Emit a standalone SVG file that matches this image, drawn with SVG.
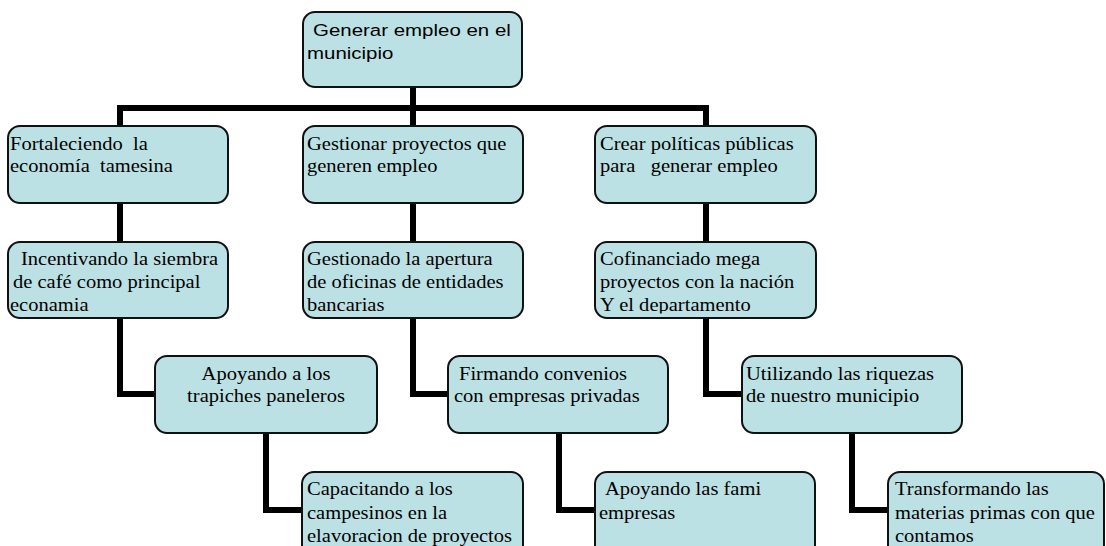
<svg xmlns="http://www.w3.org/2000/svg" width="1106" height="546" viewBox="0 0 1106 546">
<style>
.box{fill:#bce1e4;stroke:#111;stroke-width:2}
.s{font-family:"Liberation Serif","Times New Roman",serif;font-size:18px;fill:#000}
.a{font-family:"Liberation Sans",Arial,sans-serif;font-size:16.5px;fill:#000}
.c{fill:none;stroke:#000;stroke-width:6;stroke-linejoin:miter;stroke-linecap:butt}
</style>
<defs>
<clipPath id="clipL2"><rect x="0" y="240" width="1106" height="73.5"/></clipPath>
</defs>
<rect width="1106" height="546" fill="#fff"/>
<g id="connectors">
<path class="c" d="M413,87 V108"/>
<path class="c" d="M120,130 V108 H706 V130"/>
<path class="c" d="M413,108 V130"/>
<path class="c" d="M120,200 V245"/>
<path class="c" d="M413,200 V245"/>
<path class="c" d="M706,200 V245"/>
<path class="c" d="M120,315 V394 H158"/>
<path class="c" d="M413,315 V394 H451"/>
<path class="c" d="M706,315 V394 H745"/>
<path class="c" d="M266,430 V510 H305"/>
<path class="c" d="M559,430 V510 H598"/>
<path class="c" d="M852,430 V510 H891"/>
</g>
<g id="n0">
<rect class="box" x="303" y="12" width="219" height="75" rx="12"/>
<text class="a" transform="translate(313,36) scale(1.24,1)">Generar empleo en el</text>
<text class="a" transform="translate(307,59) scale(1.24,1)">municipio</text>
</g>
<g id="n1">
<rect class="box" x="8" y="126" width="220" height="77" rx="12"/>
<text class="s" xml:space="preserve" transform="translate(10,150) scale(1.14,1)">Fortaleciendo  la</text>
<text class="s" xml:space="preserve" transform="translate(10,172) scale(1.14,1)">economía  tamesina</text>
</g>
<g id="n2">
<rect class="box" x="303" y="126" width="220" height="77" rx="12"/>
<text class="s" transform="translate(307,150) scale(1.14,1)">Gestionar proyectos que</text>
<text class="s" transform="translate(307,172) scale(1.14,1)">generen empleo</text>
</g>
<g id="n3">
<rect class="box" x="595" y="126" width="221" height="77" rx="12"/>
<text class="s" transform="translate(600,150) scale(1.14,1)">Crear políticas públicas</text>
<text class="s" xml:space="preserve" transform="translate(600,172) scale(1.14,1)">para   generar empleo</text>
</g>
<g id="n4">
<rect class="box" x="8" y="242" width="220" height="76" rx="12"/>
<g clip-path="url(#clipL2)">
<text class="s" transform="translate(21,265) scale(1.14,1)">Incentivando la siembra</text>
<text class="s" transform="translate(13,288) scale(1.14,1)">de café como principal</text>
<text class="s" transform="translate(10,311) scale(1.14,1)">econamia</text>
</g>
</g>
<g id="n5">
<rect class="box" x="303" y="242" width="220" height="76" rx="12"/>
<g clip-path="url(#clipL2)">
<text class="s" transform="translate(307,265) scale(1.14,1)">Gestionado la apertura</text>
<text class="s" transform="translate(307,288) scale(1.14,1)">de oficinas de entidades</text>
<text class="s" transform="translate(307,311) scale(1.14,1)">bancarias</text>
</g>
</g>
<g id="n6">
<rect class="box" x="595" y="242" width="221" height="76" rx="12"/>
<g clip-path="url(#clipL2)">
<text class="s" transform="translate(600,265) scale(1.14,1)">Cofinanciado mega</text>
<text class="s" transform="translate(600,288) scale(1.14,1)">proyectos con la nación</text>
<text class="s" transform="translate(600,311) scale(1.14,1)">Y el departamento</text>
</g>
</g>
<g id="n7">
<rect class="box" x="155" y="356" width="222" height="77" rx="12"/>
<text class="s" text-anchor="middle" transform="translate(266,380) scale(1.14,1)">Apoyando a los</text>
<text class="s" text-anchor="middle" transform="translate(266,402) scale(1.14,1)">trapiches paneleros</text>
</g>
<g id="n8">
<rect class="box" x="448" y="356" width="220" height="77" rx="12"/>
<text class="s" transform="translate(459,380) scale(1.14,1)">Firmando convenios</text>
<text class="s" transform="translate(454,402) scale(1.14,1)">con empresas privadas</text>
</g>
<g id="n9">
<rect class="box" x="742" y="356" width="220" height="77" rx="12"/>
<text class="s" transform="translate(746,380) scale(1.14,1)">Utilizando las riquezas</text>
<text class="s" transform="translate(746,402) scale(1.14,1)">de nuestro municipio</text>
</g>
<g id="n10">
<rect class="box" x="302" y="472" width="221" height="100" rx="12"/>
<text class="s" transform="translate(307,495) scale(1.14,1)">Capacitando a los</text>
<text class="s" transform="translate(307,519) scale(1.14,1)">campesinos en la</text>
<text class="s" transform="translate(307,542) scale(1.14,1)">elavoracion de proyectos</text>
</g>
<g id="n11">
<rect class="box" x="595" y="472" width="220" height="100" rx="12"/>
<text class="s" transform="translate(605,495) scale(1.14,1)">Apoyando las fami</text>
<text class="s" transform="translate(599,519) scale(1.14,1)">empresas</text>
</g>
<g id="n12">
<rect class="box" x="888" y="472" width="216" height="100" rx="12"/>
<text class="s" transform="translate(895,495) scale(1.14,1)">Transformando las</text>
<text class="s" transform="translate(895,519) scale(1.14,1)">materias primas con que</text>
<text class="s" transform="translate(895,542) scale(1.14,1)">contamos</text>
</g>
</svg>
